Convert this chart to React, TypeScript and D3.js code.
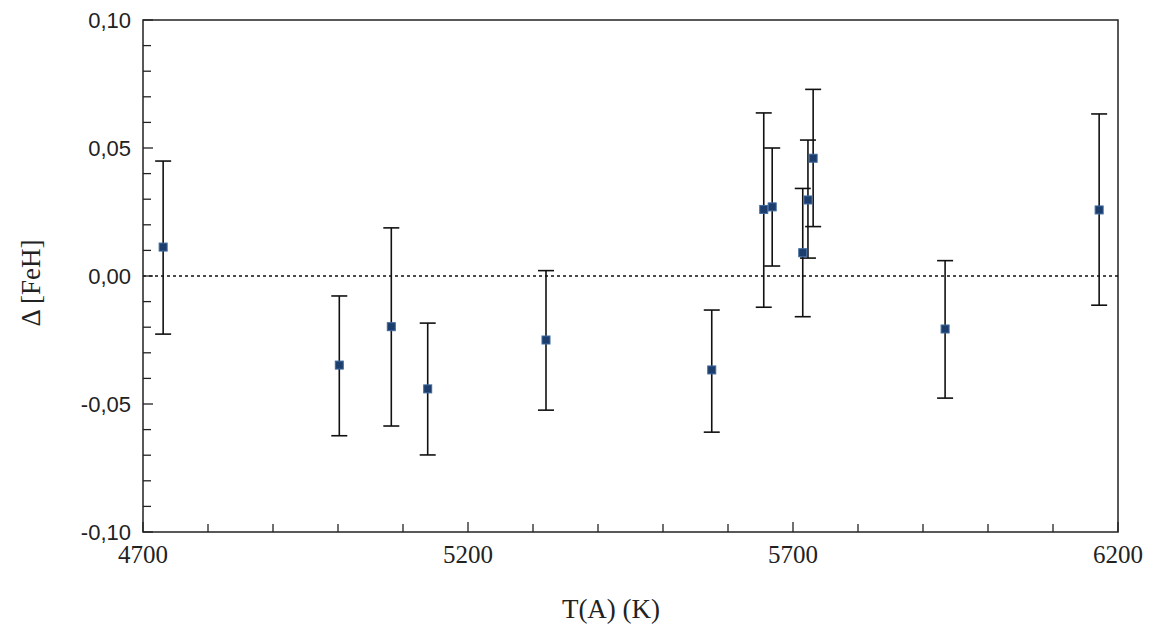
import React from "react";
import * as d3 from "d3";

const temps = [4731, 5002, 5082, 5138, 5320, 5575, 5655, 5668, 5715, 5723, 5731, 5934, 6171];
const deltas = [0.0113, -0.0348, -0.0198, -0.0441, -0.0250, -0.0367, 0.0260, 0.0270, 0.0091, 0.0297, 0.0460, -0.0207, 0.0258];
const upper = [0.0449, -0.0078, 0.0188, -0.0184, 0.0021, -0.0133, 0.0637, 0.0500, 0.0342, 0.0531, 0.0729, 0.0060, 0.0633];
const lower = [-0.0227, -0.0624, -0.0586, -0.0699, -0.0524, -0.0610, -0.0122, 0.0039, -0.0159, 0.0070, 0.0193, -0.0477, -0.0114];

const xTickLabels = [4700, 5200, 5700, 6200];
const yTickLabels = [0.1, 0.05, 0, -0.05, -0.1];

const W = 1162, H = 630;
const L = 143, R = 1118, T = 20, B = 532;

export default function App() {
  const x = d3.scaleLinear().domain([4700, 6200]).range([L, R]);
  const y = d3.scaleLinear().domain([-0.1, 0.1]).range([B, T]);
  const xMinor = d3.range(4700, 6201, 100);
  const yMinor = d3.range(-10, 11).map((i) => i / 100);
  const fmt = (v: number) => d3.format(".2f")(v).replace(".", ",").replace("−", "-");
  const axisCol = "#222";
  return (
    <svg width={W} height={H} style={{ position: "absolute", left: 0, top: 0, background: "#fff" }}>
      {/* frame */}
      <rect x={L} y={T} width={R - L} height={B - T} fill="none" stroke={axisCol} strokeWidth={1.5} />
      {/* zero line */}
      <line x1={L} x2={R} y1={y(0)} y2={y(0)} stroke="#111" strokeWidth={1.3} strokeDasharray="3,3" />
      {/* y ticks */}
      {yMinor.map((v, i) => {
        const major = Math.abs(Math.round(v * 100)) % 5 === 0;
        return <line key={"yt" + i} x1={L} x2={L + (major ? 10 : 8)} y1={y(v)} y2={y(v)} stroke={axisCol} strokeWidth={1.3} />;
      })}
      {/* x ticks */}
      {xMinor.map((v, i) => {
        const major = v % 500 === 200;
        return <line key={"xt" + i} x1={x(v)} x2={x(v)} y1={B} y2={B - (major ? 10 : 8)} stroke={axisCol} strokeWidth={1.3} />;
      })}
      {/* y labels */}
      {yTickLabels.map((v, i) => (
        <text key={"yl" + i} x={L - 12} y={y(v) + 8} textAnchor="end" fontFamily="'Liberation Sans', Arial, sans-serif" fontSize={22} fill="#222">
          {fmt(v)}
        </text>
      ))}
      {/* x labels */}
      {xTickLabels.map((v, i) => (
        <text key={"xl" + i} x={x(v)} y={563} textAnchor="middle" fontFamily="'Liberation Serif', 'Times New Roman', serif" fontSize={25} fill="#222">
          {v}
        </text>
      ))}
      {/* axis titles */}
      <text x={611} y={618} textAnchor="middle" fontFamily="'Liberation Serif', 'Times New Roman', serif" fontSize={27} fill="#222">
        T(A) (K)
      </text>
      <text transform={`translate(40,283) rotate(-90)`} textAnchor="middle" fontFamily="'Liberation Serif', 'Times New Roman', serif" fontSize={27} fill="#222">
        Δ [FeH]
      </text>
      {/* error bars */}
      {temps.map((t, i) => (
        <g key={"e" + i} stroke="#111" strokeWidth={1.6}>
          <line x1={x(t)} x2={x(t)} y1={y(upper[i])} y2={y(lower[i])} />
          <line x1={x(t) - 8} x2={x(t) + 8} y1={y(upper[i])} y2={y(upper[i])} />
          <line x1={x(t) - 8} x2={x(t) + 8} y1={y(lower[i])} y2={y(lower[i])} />
        </g>
      ))}
      {/* points */}
      {temps.map((t, i) => (
        <rect key={"p" + i} x={x(t) - 4} y={y(deltas[i]) - 4} width={8} height={8} fill="#1d3d6d" stroke="#3d6aa0" strokeWidth={1} />
      ))}
    </svg>
  );
}
